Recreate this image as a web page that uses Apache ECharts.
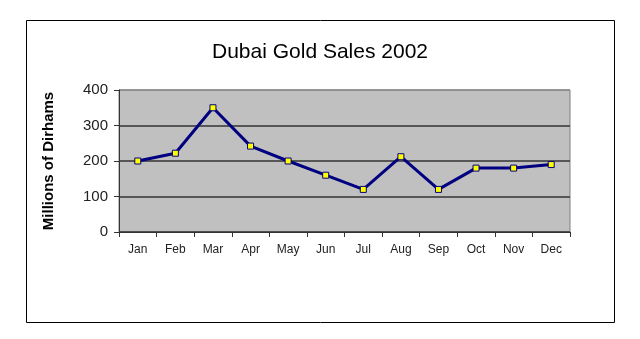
<!DOCTYPE html>
<html><head><meta charset="utf-8">
<script src="https://cdn.jsdelivr.net/npm/echarts@6/dist/echarts.min.js"></script>
<style>html,body{margin:0;padding:0;background:#fff}#c{width:640px;height:339px}</style>
</head><body><div id="c"></div>
<script>
const categories = ['Jan','Feb','Mar','Apr','May','Jun','Jul','Aug','Sep','Oct','Nov','Dec'];
const sales = [200, 222, 350, 242, 200, 160, 120, 212, 120, 180, 180, 190];
const titleText = 'Dubai Gold Sales 2002';
const yAxisName = 'Millions of Dirhams';

const chart = echarts.init(document.getElementById('c'), null, {renderer:'canvas'});
chart.setOption({
  animation: false,
  backgroundColor: '#fff',
  graphic: [{
    type: 'rect', left: 24, top: 18, z: 100, silent: true,
    shape: {x: 0.5, y: 0.5, width: 588, height: 302},
    style: {fill: 'none', stroke: '#000', lineWidth: 1}
  }],
  title: {
    text: titleText, left: 'center', top: 37,
    textStyle: {fontFamily: 'Liberation Sans, Arial, sans-serif', fontSize: 21, fontWeight: 'normal', color: '#000'}
  },
  grid: {left: 119, right: 70, top: 90, bottom: 107, show: true, backgroundColor: '#c0c0c0', borderColor: '#808080', borderWidth: 1},
  xAxis: {
    type: 'category', data: categories, boundaryGap: true,
    axisLine: {lineStyle: {color: '#333', width: 1}},
    axisTick: {show: true, length: 5, lineStyle: {color: '#333'}},
    axisLabel: {fontFamily: 'Liberation Sans, Arial, sans-serif', fontSize: 12, color: '#222', margin: 12}
  },
  yAxis: {
    type: 'value', min: 0, max: 400, interval: 100,
    name: yAxisName, nameLocation: 'middle', nameRotate: 90, nameGap: 63,
    nameTextStyle: {fontFamily: 'Liberation Sans, Arial, sans-serif', fontSize: 15, fontWeight: 'bold', color: '#000'},
    axisLine: {show: true, lineStyle: {color: '#333', width: 1}},
    axisTick: {show: true, length: 5, lineStyle: {color: '#333'}},
    axisLabel: {fontFamily: 'Liberation Sans, Arial, sans-serif', fontSize: 15, color: '#222', margin: 11},
    splitLine: {show: true, lineStyle: {color: ['#333','#333','#333','#333','#888'], width: 1.5}}
  },
  series: [{
    type: 'line', data: sales,
    symbol: 'rect', symbolSize: 6,
    lineStyle: {color: '#000080', width: 3},
    itemStyle: {color: '#ffff00', borderColor: '#000080', borderWidth: 1}
  }]
});
</script></body></html>
